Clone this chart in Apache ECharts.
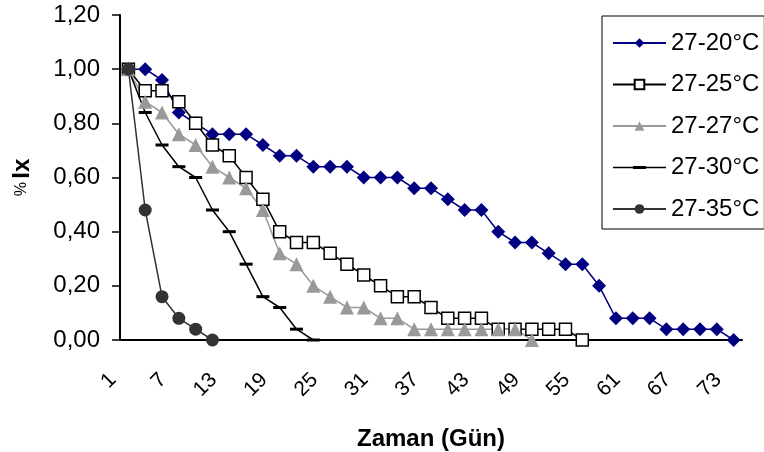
<!DOCTYPE html>
<html>
<head>
<meta charset="utf-8">
<script src="https://cdn.jsdelivr.net/npm/echarts@6/dist/echarts.min.js"></script>
<style>
  html, body { margin: 0; padding: 0; background: #fff; }
  #chart { width: 764px; height: 452px; }
</style>
</head>
<body>
<div id="chart"></div>
<script>
// gün: 1, 3, 5 ... 73
const days = []
for (let d = 1; d <= 73; d += 2) days.push(String(d))

const s20 = [1.00, 1.00, 0.96, 0.84, 0.80, 0.76, 0.76, 0.76, 0.72, 0.68, 0.68, 0.64, 0.64, 0.64, 0.60, 0.60, 0.60, 0.56, 0.56, 0.52,
  0.48, 0.48, 0.40, 0.36, 0.36, 0.32, 0.28, 0.28, 0.20, 0.08, 0.08, 0.08, 0.04, 0.04, 0.04, 0.04, 0.00]
const s25 = [1.00, 0.92, 0.92, 0.88, 0.80, 0.72, 0.68, 0.60, 0.52, 0.40, 0.36, 0.36, 0.32, 0.28, 0.24, 0.20, 0.16, 0.16, 0.12, 0.08,
  0.08, 0.08, 0.04, 0.04, 0.04, 0.04, 0.04, 0.00]
const s27 = [1.00, 0.88, 0.84, 0.76, 0.72, 0.64, 0.60, 0.56, 0.48, 0.32, 0.28, 0.20, 0.16, 0.12, 0.12, 0.08, 0.08, 0.04, 0.04, 0.04,
  0.04, 0.04, 0.04, 0.04, 0.00]
const s30 = [1.00, 0.84, 0.72, 0.64, 0.60, 0.48, 0.40, 0.28, 0.16, 0.12, 0.04, 0.00]
const s35 = [1.00, 0.48, 0.16, 0.08, 0.04, 0.00]

const names = ['27-20°C', '27-25°C', '27-27°C', '27-30°C', '27-35°C']
const yTicks = [0, 0.2, 0.4, 0.6, 0.8, 1.0, 1.2]

const font = "'Liberation Sans', Arial, sans-serif"
// excel'deki kısa çizgi işaretçisi
const dash = 'path://M0,0L13,0L13,3L0,3Z'
// lejantta çizgi + kısa çizgi birlikte
const dashIcon = 'path://M0,0.75H53V2.25H0Z M20,0H33V3H20Z'

function line(name, data, color, symbol, size, fill, border) {
  return {
    name: name,
    type: 'line',
    data: data,
    symbol: symbol,
    symbolSize: size,
    showAllSymbol: true,
    lineStyle: { color: color, width: 1.5 },
    itemStyle: { color: fill, borderColor: border || fill, borderWidth: border ? 1.5 : 0 },
    emphasis: { disabled: true },
    animation: false
  }
}

const chart = echarts.init(document.getElementById('chart'))
chart.setOption({
  backgroundColor: '#fff',
  textStyle: { fontFamily: font },
  grid: { left: 120, right: 22, top: 15, bottom: 112, outerBoundsMode: 'none' },
  legend: {
    orient: 'vertical',
    left: 602,
    top: 16,
    padding: [15, 5, 8, 10],
    itemWidth: 53,
    itemHeight: 12,
    itemGap: 17.5,
    borderColor: '#000',
    borderWidth: 1,
    backgroundColor: '#fff',
    textStyle: { fontSize: 24, color: '#000', fontFamily: font },
    data: [names[0], names[1], names[2], { name: names[3], icon: dashIcon }, names[4]]
  },
  xAxis: {
    type: 'category',
    data: days,
    boundaryGap: true,
    name: 'Zaman (Gün)',
    nameLocation: 'middle',
    nameGap: 87,
    nameTextStyle: { fontSize: 24, fontWeight: 'bold', color: '#000', fontFamily: font },
    axisLine: { lineStyle: { color: '#000', width: 2 } },
    axisTick: { interval: 0, length: 8, lineStyle: { color: '#000', width: 1.5 } },
    axisLabel: { interval: 2, rotate: 45, fontSize: 21, color: '#000', margin: 21, padding: [0, 22, 0, 0] },
    splitLine: { show: false }
  },
  yAxis: {
    type: 'value',
    min: yTicks[0],
    max: yTicks[yTicks.length - 1],
    interval: 0.2,
    name: '{a|%} {b|Ix}',
    nameLocation: 'middle',
    nameGap: 86,
    nameRotate: 90,
    nameTextStyle: {
      color: '#000',
      rich: {
        a: { fontSize: 16, fontFamily: font, color: '#000' },
        b: { fontSize: 24, fontWeight: 'bold', fontFamily: font, color: '#000' }
      }
    },
    axisLine: { show: true, lineStyle: { color: '#000', width: 2 } },
    axisTick: { show: true, length: 8, lineStyle: { color: '#000', width: 1.5 } },
    axisLabel: { fontSize: 24, color: '#000', margin: 20, formatter: v => v.toFixed(2).replace('.', ',') },
    splitLine: { show: false }
  },
  series: [
    line(names[0], s20, '#000080', 'diamond', 14, '#000080'),
    line(names[1], s25, '#000000', 'rect', 12, '#ffffff', '#000000'),
    line(names[2], s27, '#999999', 'triangle', 14, '#999999'),
    line(names[3], s30, '#000000', dash, [13, 3], '#000000'),
    line(names[4], s35, '#333333', 'circle', 13, '#333333')
  ]
})
</script>
</body>
</html>
